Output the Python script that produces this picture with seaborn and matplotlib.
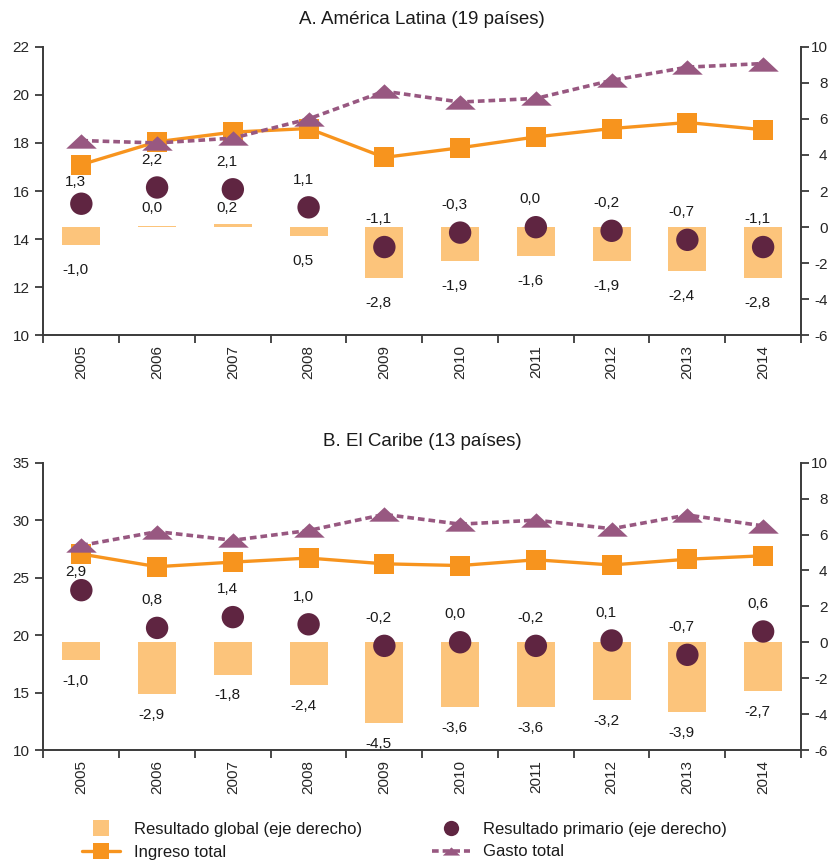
import numpy as np
import pandas as pd
import matplotlib
matplotlib.use("Agg")
import matplotlib.pyplot as plt
from matplotlib.lines import Line2D
import seaborn as sns

# ---------------- data ----------------
years = ["2005", "2006", "2007", "2008", "2009", "2010", "2011", "2012", "2013", "2014"]

# Panel A: América Latina (19 países)
ingreso_a = [17.1, 18.05, 18.45, 18.6, 17.4, 17.8, 18.25, 18.6, 18.85, 18.55]
gasto_a = [18.1, 18.0, 18.2, 19.0, 20.15, 19.7, 19.85, 20.6, 21.15, 21.3]
global_a = [-1.0, 0.04, 0.2, -0.5, -2.8, -1.9, -1.6, -1.9, -2.4, -2.8]
global_a_labels = ["-1,0", "0,0", "0,2", "0,5", "-2,8", "-1,9", "-1,6", "-1,9", "-2,4", "-2,8"]
primario_a = [1.3, 2.2, 2.1, 1.1, -1.1, -0.3, 0.0, -0.2, -0.7, -1.1]

# Panel B: El Caribe (13 países)
ingreso_b = [27.05, 25.95, 26.35, 26.7, 26.2, 26.05, 26.55, 26.1, 26.6, 26.9]
gasto_b = [27.8, 29.0, 28.25, 29.1, 30.5, 29.65, 30.0, 29.25, 30.45, 29.5]
global_b = [-1.0, -2.9, -1.8, -2.4, -4.5, -3.6, -3.6, -3.2, -3.9, -2.7]
primario_b = [2.9, 0.8, 1.4, 1.0, -0.2, 0.0, -0.2, 0.1, -0.7, 0.6]

titles = ["A. América Latina (19 países)", "B. El Caribe (13 países)"]
legend_labels = ["Resultado global (eje derecho)", "Ingreso total",
                 "Resultado primario (eje derecho)", "Gasto total"]

# ---------------- style ----------------
sns.set_style("ticks")
plt.rcParams["font.family"] = ["Liberation Sans", "DejaVu Sans"]
plt.rcParams["text.color"] = "#1a1a1a"

C_BAR = "#FCC47B"
C_ING = "#F7941E"
C_GAS = "#985881"
C_PRI = "#5F2541"
C_AX = "#3a3a3a"
TRI = [(-1.0, -0.47), (1.0, -0.47), (0.0, 0.47)]
PX = 100 / 72.0  # pixels per point


def fmt(v):
    s = f"{v:.1f}".replace(".", ",")
    return "0,0" if s == "-0,0" else s


fig = plt.figure(figsize=(8.31, 8.6), dpi=100)

panels = [
    dict(ing=ingreso_a, gas=gasto_a, glo=global_a, glo_lbl=global_a_labels, pri=primario_a,
         ylim=(10, 22), ystep=2, rect=[0.0523, 0.6099, 0.9116, 0.3358], ty=1 - 19 / 860,
         gl_off=-18),
    dict(ing=ingreso_b, gas=gasto_b, glo=global_b, glo_lbl=[fmt(v) for v in global_b], pri=primario_b,
         ylim=(10, 35), ystep=5, rect=[0.0523, 0.1279, 0.9116, 0.3341], ty=1 - 441.7 / 860,
         gl_off=-15),
]

for i, p in enumerate(panels):
    df = pd.DataFrame({
        "year": years,
        "pos": np.arange(len(years)),
        "ingreso": p["ing"],
        "gasto": p["gas"],
        "global": p["glo"],
        "primario": p["pri"],
    })
    ax = fig.add_axes(p["rect"])
    ax2 = ax.twinx()

    # right axis: bars + circles
    sns.barplot(data=df, x="year", y="global", ax=ax2, color=C_BAR, width=0.5,
                saturation=1, edgecolor="none", linewidth=0)
    sns.scatterplot(data=df, x="pos", y="primario", ax=ax2, color=C_PRI, s=260,
                    edgecolor="none", linewidth=0, zorder=3)

    # left axis: lines
    sns.lineplot(data=df, x="pos", y="ingreso", ax=ax, color=C_ING, lw=2.4,
                 marker="s", markersize=14, markeredgewidth=0, zorder=4)
    sns.lineplot(data=df, x="pos", y="gasto", ax=ax, color=C_GAS, lw=2.6,
                 linestyle=(0, (1.85, 1.1)), marker=TRI, markersize=22,
                 markeredgewidth=0, zorder=4)

    ax.set_zorder(ax2.get_zorder() + 1)
    ax.patch.set_visible(False)

    # axes formatting (before label placement so transforms are final)
    n = len(years)
    ax.set_xlim(-0.5, n - 0.5)
    ax.set_xticks(np.arange(n))
    ax.set_xticklabels(years, rotation=90)
    ax.set_xticks(np.arange(n + 1) - 0.5, minor=True)
    ax.tick_params(axis="x", which="major", length=0, pad=7, labelsize=11)
    ax.tick_params(axis="x", which="minor", length=5.5, width=1.3, color=C_AX, direction="out")

    lo, hi = p["ylim"]
    ax.set_ylim(lo, hi)
    ax.set_yticks(np.arange(lo, hi + 0.1, p["ystep"]))
    ax.set_yticklabels([f"{int(v)}" for v in np.arange(lo, hi + 0.1, p["ystep"])])
    ax2.set_ylim(-6, 10)
    ax2.set_yticks(np.arange(-6, 10.1, 2))
    ax2.set_yticklabels([f"{int(v)}" for v in np.arange(-6, 10.1, 2)], ha="right")
    ax.tick_params(axis="y", length=5.5, width=1.3, color=C_AX, pad=4.5, labelsize=11)
    ax2.tick_params(axis="y", length=5.5, width=1.3, color=C_AX, pad=13.5, labelsize=11)

    # labels
    for k, row in df.iterrows():
        cx, cy = ax2.transData.transform((row["pos"], row["primario"]))
        _, sq = ax.transData.transform((row["pos"], row["ingreso"]))
        off = 20.0
        # keep the label clear of the income marker just above it
        square_bottom = sq - 9.5
        top_of_label = cy + off * PX + 7
        if top_of_label > square_bottom and cy < sq:
            off = (square_bottom - 8 - cy) / PX
        ax2.annotate(fmt(row["primario"]), xy=(row["pos"], row["primario"]),
                     xytext=(-4, off), textcoords="offset points",
                     ha="center", va="center", fontsize=11)
        g = row["global"]
        if i == 0 and abs(g) <= 0.2:
            yv, goff = 0, 14
        else:
            yv, goff = min(g, 0), p["gl_off"]
        ax2.annotate(p["glo_lbl"][k], xy=(row["pos"], yv),
                     xytext=(-4, goff), textcoords="offset points",
                     ha="center", va="center", fontsize=11)

    for a in (ax, ax2):
        a.set_xlabel("")
        a.set_ylabel("")
        for s in a.spines.values():
            s.set_color(C_AX)
            s.set_linewidth(1.4)
        a.spines["top"].set_visible(False)
    ax.spines["right"].set_visible(False)
    ax2.spines["left"].set_visible(False)
    ax2.spines["bottom"].set_visible(False)
    if ax.get_legend():
        ax.get_legend().remove()

    fig.text(0.5078, p["ty"], titles[i], ha="center", va="center", fontsize=13.5)

# legend
handles = [
    Line2D([], [], ls="none", marker="s", markersize=11.5, color=C_BAR, markeredgewidth=0),
    Line2D([], [], color=C_ING, lw=2.4, marker="s", markersize=11.5, markeredgewidth=0),
    Line2D([], [], ls="none", marker="o", markersize=11, color=C_PRI, markeredgewidth=0),
    Line2D([], [], color=C_GAS, lw=2.6, linestyle=(0, (1.85, 1.1)), marker=TRI,
           markersize=12.5, markeredgewidth=0),
]
fig.legend(handles, legend_labels, ncol=2, loc="upper left",
           bbox_to_anchor=(82 / 831, 1 - 822 / 860), frameon=False, fontsize=12,
           handlelength=2.3, handletextpad=0.8, columnspacing=4.2,
           labelspacing=0.45, borderpad=0, borderaxespad=0)

fig.savefig("out.png", dpi=100)
